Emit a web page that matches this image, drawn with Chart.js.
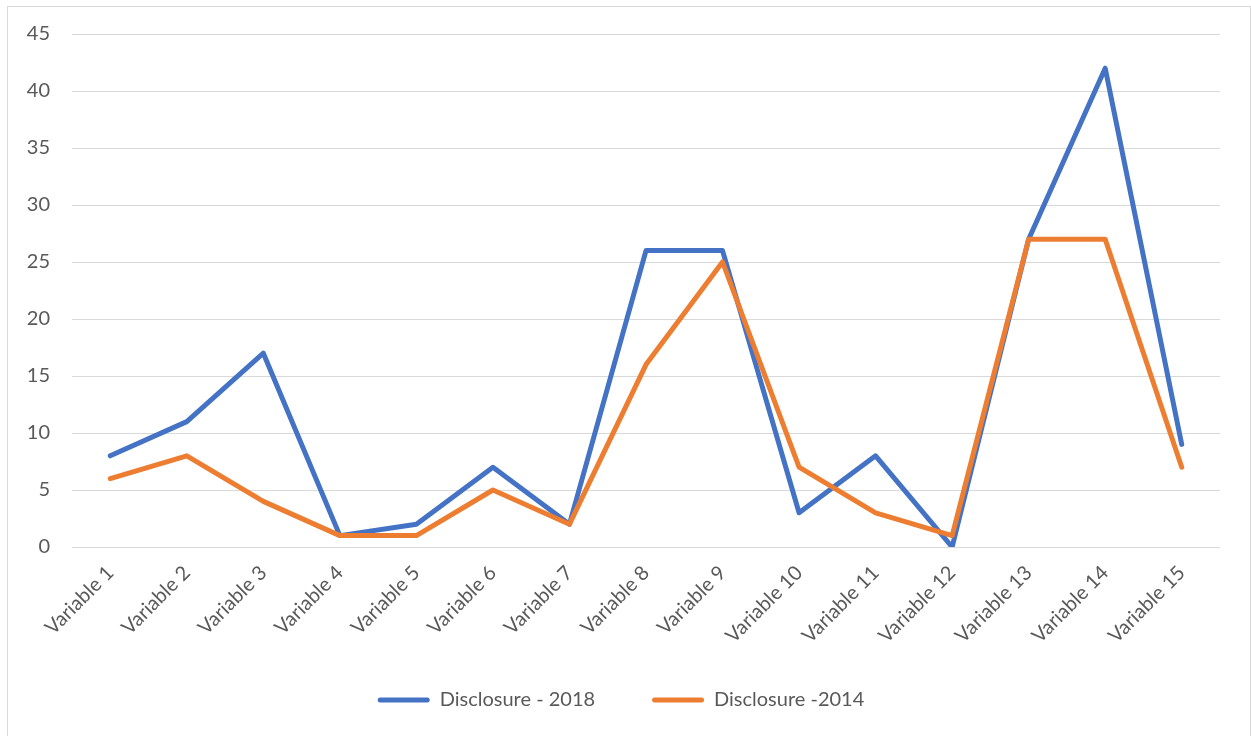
<!DOCTYPE html>
<html>
<head>
<meta charset="utf-8">
<script src="https://cdn.jsdelivr.net/npm/chart.js@4"></script>
<style>
    html, body { margin: 0; padding: 0; background: #fff; }
    #wrap { position: relative; width: 1251px; height: 736px; }
    #frame { position: absolute; left: 7px; top: 6px; width: 1242px; height: 740px; border: 1px solid #d9d9d9; pointer-events: none; }
</style>
</head>
<body>
<div id="wrap">
    <canvas id="lineChart" width="1251" height="736"></canvas>
    <div id="frame"></div>
</div>
<script>
const variables = [
    'Variable 1', 'Variable 2', 'Variable 3', 'Variable 4', 'Variable 5',
    'Variable 6', 'Variable 7', 'Variable 8', 'Variable 9', 'Variable 10',
    'Variable 11', 'Variable 12', 'Variable 13', 'Variable 14', 'Variable 15'
];
const disclosure2018 = [8, 11, 17, 1, 2, 7, 2, 26, 26, 3, 8, 0, 27, 42, 9];
const disclosure2014 = [6, 8, 4, 1, 1, 5, 2, 16, 25, 7, 3, 1, 27, 27, 7];
const yTicks = [0, 5, 10, 15, 20, 25, 30, 35, 40, 45];

const fontFamily = 'Lato, "Open Sans", sans-serif';
const fontSize = 20;
const textColor = '#595959';

// centraliza a legenda sob a área do gráfico
const legendShift = {
    id: 'legendShift',
    afterLayout(chart) {
        if (chart.legend) chart.legend.left += 22;
    }
};

const ctx = document.getElementById('lineChart').getContext('2d');

new Chart(ctx, {
    type: 'line',
    data: {
        labels: variables,
        datasets: [{
            label: 'Disclosure - 2018',
            data: disclosure2018,
            borderColor: '#4472c4',
            backgroundColor: '#4472c4',
            borderWidth: 5,
            pointRadius: 0,
            borderCapStyle: 'round',
            borderJoinStyle: 'round',
            order: 1,
        }, {
            label: 'Disclosure -2014',
            data: disclosure2014,
            borderColor: '#ed7d31',
            backgroundColor: '#ed7d31',
            borderWidth: 5,
            pointRadius: 0,
            borderCapStyle: 'round',
            borderJoinStyle: 'round',
            order: 0, // laranja por cima
        }]
    },
    plugins: [legendShift],
    options: {
        responsive: false,
        animation: false,
        layout: {
            padding: { top: 25, right: 31, left: 0, bottom: 16 }
        },
        scales: {
            x: {
                offset: true,
                grid: { display: false },
                border: { display: false },
                ticks: {
                    color: textColor,
                    font: { family: fontFamily, size: fontSize },
                    minRotation: 45,
                    maxRotation: 45,
                    padding: 6,
                },
                afterFit: function (scale) { scale.height = 127; }
            },
            y: {
                min: 0,
                max: 45,
                afterBuildTicks: function (scale) {
                    scale.ticks = yTicks.map(v => ({ value: v }));
                },
                grid: { color: '#d9d9d9', lineWidth: 1, drawTicks: false },
                border: { display: false },
                ticks: {
                    color: textColor,
                    font: { family: fontFamily, size: fontSize },
                    padding: 22,
                },
                afterFit: function (scale) { scale.width = 72; }
            }
        },
        plugins: {
            legend: {
                position: 'bottom',
                reverse: true,
                labels: {
                    color: textColor,
                    font: { family: fontFamily, size: fontSize },
                    boxWidth: 52,
                    boxHeight: 5,
                    padding: 16,
                    generateLabels: function (chart) {
                        const items = Chart.defaults.plugins.legend.labels.generateLabels(chart);
                        items.forEach((item, i) => {
                            item.lineWidth = 0;
                            item.borderRadius = 2.5;
                            // espaço extra entre os itens da legenda
                            if (i === items.length - 1) item.text += '        ';
                        });
                        return items;
                    }
                }
            },
            tooltip: { enabled: false }
        }
    }
});
</script>
</body>
</html>
